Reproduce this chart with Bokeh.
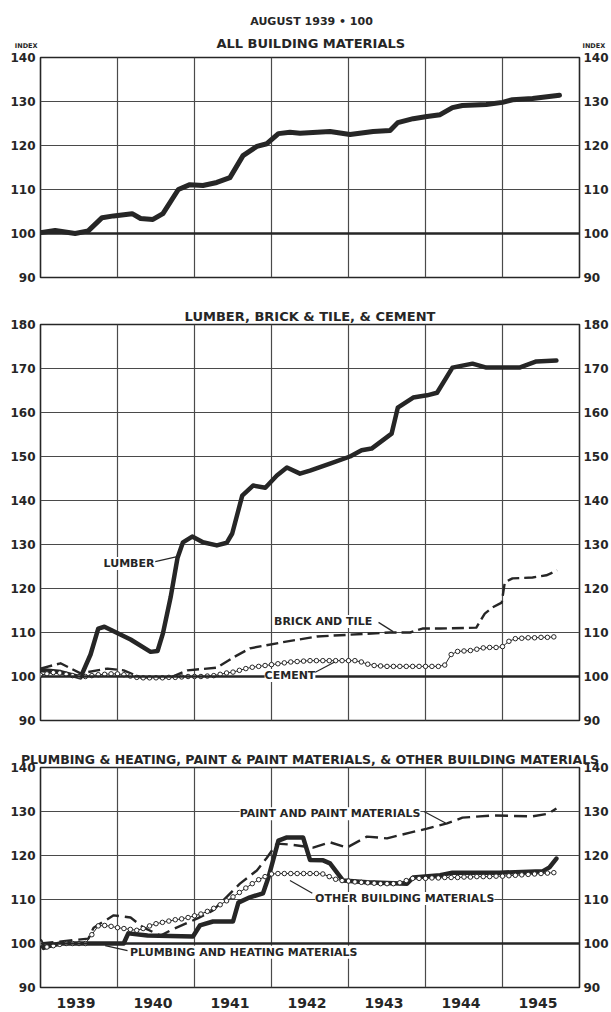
from bokeh.plotting import figure
from bokeh.models import Range1d, LinearAxis, FixedTicker, Span, Label
from bokeh.layouts import column
from bokeh.core.properties import value
from bokeh.embed import file_html
from bokeh.resources import INLINE

# ---------------- data (index, August 1939 = 100) ----------------
# time is in decimal years; monthly series start January 1939

all_t = [1939.00, 1939.19, 1939.45, 1939.62, 1939.80, 1939.95, 1940.19, 1940.30,
         1940.46, 1940.59, 1940.79, 1940.94, 1941.11, 1941.29, 1941.46, 1941.63,
         1941.81, 1941.94, 1942.09, 1942.24, 1942.37, 1942.76, 1943.02, 1943.32,
         1943.54, 1943.64, 1943.84, 1944.02, 1944.19, 1944.35, 1944.48, 1944.79,
         1945.00, 1945.13, 1945.39, 1945.74]
all_v = [100.2, 100.7, 100.0, 100.6, 103.6, 104.0, 104.5, 103.4,
         103.2, 104.5, 110.0, 111.1, 110.9, 111.6, 112.7, 117.7,
         119.8, 120.4, 122.7, 123.0, 122.8, 123.2, 122.5, 123.2,
         123.4, 125.2, 126.1, 126.6, 127.0, 128.6, 129.1, 129.3,
         129.8, 130.4, 130.7, 131.4]

lumber_t = [1939.00, 1939.26, 1939.52, 1939.65, 1939.75, 1939.83, 1940.17, 1940.43,
            1940.52, 1940.59, 1940.69, 1940.78, 1940.85, 1940.97, 1941.11, 1941.29,
            1941.42, 1941.49, 1941.62, 1941.76, 1941.92, 1942.07, 1942.20, 1942.37,
            1942.50, 1942.76, 1943.02, 1943.17, 1943.30, 1943.56, 1943.64, 1943.84,
            1944.02, 1944.15, 1944.35, 1944.61, 1944.79, 1945.22, 1945.44, 1945.70]
lumber_v = [101.5, 101.0, 99.8, 105.0, 110.9, 111.3, 108.4, 105.6,
            105.8, 109.8, 118.0, 127.0, 130.5, 131.8, 130.5, 129.8,
            130.4, 132.5, 141.1, 143.4, 142.9, 145.7, 147.5, 146.1,
            146.8, 148.4, 150.0, 151.4, 151.8, 155.2, 161.1, 163.4,
            163.9, 164.5, 170.2, 171.1, 170.2, 170.2, 171.6, 171.8]

brick_t = [1939.00, 1939.26, 1939.52, 1939.87, 1940.08, 1940.30, 1940.69, 1940.91,
           1941.29, 1941.50, 1941.72, 1942.15, 1942.59, 1943.02, 1943.54, 1943.80,
           1943.96, 1944.19, 1944.66, 1944.77, 1944.87, 1944.99, 1945.03, 1945.13,
           1945.39, 1945.57, 1945.71]
brick_v = [101.8, 103.0, 100.7, 101.8, 101.4, 99.8, 99.8, 101.4,
           102.0, 104.3, 106.4, 107.8, 109.1, 109.5, 110.0, 110.0,
           110.9, 110.9, 111.1, 114.3, 115.7, 116.8, 121.4, 122.3,
           122.5, 123.0, 124.1]

cement_v = [100.3, 100.6, 100.9, 100.8, 100.5, 100.2, 100.0, 100.0, 100.2, 100.4, 100.5, 100.6,
            100.6, 100.4, 100.1, 99.8, 99.7, 99.7, 99.7, 99.7, 99.8, 99.8, 99.9, 100.0,
            100.0, 100.0, 100.1, 100.2, 100.5, 100.8, 101.0, 101.4, 101.8, 102.1, 102.3, 102.5,
            102.7, 102.9, 103.1, 103.3, 103.4, 103.5, 103.6, 103.6, 103.6, 103.6, 103.6, 103.6,
            103.6, 103.6, 103.3, 102.8, 102.5, 102.4, 102.3, 102.3, 102.3, 102.3, 102.3, 102.3,
            102.3, 102.3, 102.3, 102.6, 105.0, 105.7, 105.8, 105.9, 106.2, 106.5, 106.6, 106.6,
            106.8, 108.0, 108.6, 108.7, 108.8, 108.8, 108.9, 108.9, 109.0]

plumbing_t = [1939.00, 1939.04, 1939.13, 1939.26, 1940.08, 1940.14, 1940.39, 1940.98,
              1941.07, 1941.24, 1941.50, 1941.57, 1941.72, 1941.89, 1941.96, 1942.09,
              1942.20, 1942.41, 1942.50, 1942.67, 1942.76, 1942.93, 1943.24, 1943.76,
              1943.84, 1944.19, 1944.35, 1944.96, 1945.52, 1945.61, 1945.70]
plumbing_v = [100.5, 99.0, 99.5, 100.0, 100.0, 102.3, 101.8, 101.6,
              104.1, 105.0, 105.0, 109.3, 110.5, 111.4, 115.0, 123.4,
              124.1, 124.1, 119.0, 118.9, 118.2, 114.3, 113.9, 113.6,
              115.0, 115.5, 116.1, 116.1, 116.4, 117.3, 119.3]

paint_t = [1939.00, 1939.62, 1939.69, 1939.95, 1940.17, 1940.34, 1940.56, 1940.69,
           1941.04, 1941.24, 1941.59, 1941.81, 1941.94, 1942.07, 1942.24, 1942.54,
           1942.76, 1942.98, 1943.24, 1943.50, 1943.80, 1944.02, 1944.28, 1944.48,
           1944.87, 1945.39, 1945.59, 1945.70]
paint_v = [100.0, 101.1, 103.6, 106.4, 105.9, 103.6, 101.8, 103.0,
           105.7, 107.5, 113.6, 116.6, 119.5, 122.7, 122.5, 121.8,
           123.0, 121.8, 124.3, 123.9, 125.2, 126.1, 127.3, 128.6,
           129.1, 128.9, 129.5, 130.7]

other_v = [100.0, 99.2, 99.5, 99.8, 100.0, 100.0, 100.0, 100.0, 102.0, 104.0, 104.1, 103.9,
           103.6, 103.4, 103.2, 103.0, 103.4, 104.0, 104.5, 104.8, 105.1, 105.4, 105.6, 105.9,
           106.3, 106.7, 107.3, 108.0, 108.8, 109.7, 110.6, 111.6, 112.6, 113.6, 114.5, 115.2,
           115.8, 115.9, 115.9, 115.9, 115.9, 115.9, 115.9, 115.9, 115.8, 115.2, 114.6, 114.3,
           114.2, 114.0, 113.9, 113.8, 113.7, 113.6, 113.6, 113.6, 113.8, 114.3, 114.8, 114.8,
           114.8, 114.9, 114.9, 115.0, 115.0, 115.0, 115.1, 115.1, 115.2, 115.2, 115.2, 115.3,
           115.3, 115.4, 115.5, 115.6, 115.7, 115.8, 115.9, 116.0, 116.1]

years = ["1939", "1940", "1941", "1942", "1943", "1944", "1945"]
ticks_top = [90, 100, 110, 120, 130, 140]
ticks_mid = [90, 100, 110, 120, 130, 140, 150, 160, 170, 180]
ticks_low = [90, 100, 110, 120, 130, 140]

cement_t = [1939 + i / 12 for i in range(len(cement_v))]
other_t = [1939 + i / 12 for i in range(len(other_v))]

# ---------------- styling ----------------
INK = "#262626"
GRID = "#4a4a4a"
FONT = "DejaVu Sans"
W = 611
X0, X1 = 1939, 1946


def style_axis(ax, size, standoff):
    ax.major_tick_line_color = None
    ax.minor_tick_line_color = None
    ax.major_tick_out = 0
    ax.major_tick_in = 0
    ax.minor_tick_out = 0
    ax.minor_tick_in = 0
    ax.axis_line_color = None
    ax.major_label_text_font = FONT
    ax.major_label_text_font_style = "bold"
    ax.major_label_text_font_size = size
    ax.major_label_text_color = INK
    ax.major_label_standoff = standoff


def panel(height, top, bottom, ymin, ymax, yticks, title=None, title_size="13px",
          title_offset=0, title_standoff=2, with_years=False):
    p = figure(width=W, height=height,
               x_range=Range1d(X0, X1), y_range=Range1d(ymin, ymax),
               x_axis_location="below" if with_years else None,
               y_axis_location="left",
               toolbar_location=None, output_backend="svg",
               min_border_left=40, min_border_right=31,
               min_border_top=top, min_border_bottom=bottom)
    if title:
        p.title.text = title
        p.title.align = "center"
        p.title.offset = title_offset
        p.title.standoff = title_standoff
        p.title.text_font = FONT
        p.title.text_font_style = "bold"
        p.title.text_font_size = title_size
        p.title.text_color = INK
    p.add_layout(LinearAxis(), "right")
    p.background_fill_color = "white"
    p.border_fill_color = "white"
    p.outline_line_color = INK
    p.outline_line_width = 1.6

    for ax in p.yaxis:
        ax.ticker = FixedTicker(ticks=yticks)
        style_axis(ax, "12px", 5)
    p.yaxis[1].major_label_standoff = 4

    p.ygrid.ticker = FixedTicker(ticks=yticks)
    p.xgrid.ticker = FixedTicker(ticks=[1940, 1941, 1942, 1943, 1944, 1945])
    p.grid.grid_line_color = GRID
    p.grid.grid_line_width = 1.2

    p.add_layout(Span(location=100, dimension="width", line_color=INK, line_width=2.4))

    if with_years:
        pos = [int(y) + 0.46 for y in years]
        ax = p.xaxis[0]
        ax.ticker = FixedTicker(ticks=pos)
        ax.major_label_overrides = {k: y for k, y in zip(pos, years)}
        style_axis(ax, "14px", 10)
    return p


def text(p, x, y, s, size="11px"):
    p.add_layout(Label(x=x, y=y, text=s, text_align="center", text_baseline="middle",
                       text_font=FONT, text_font_style="bold", text_font_size=size,
                       text_color=INK, background_fill_color="white"))


def leader(p, xs, ys):
    p.line(xs, ys, line_color=INK, line_width=1.2)


# ---------------- heading strip (y in pixels from the top) ----------------
HEAD_H = 50
head = figure(width=W, height=HEAD_H, x_range=Range1d(X0, X1), y_range=Range1d(HEAD_H, 0),
              x_axis_location=None, y_axis_location="left",
              toolbar_location=None, output_backend="svg",
              min_border_left=40, min_border_right=31, min_border_top=0, min_border_bottom=0,
              outline_line_color=None)
head.add_layout(LinearAxis(), "right")
head.grid.visible = False
for ax in head.yaxis:
    ax.ticker = FixedTicker(ticks=[45])
    ax.major_label_overrides = {45: "INDEX"}
    style_axis(ax, "6.5px", 3)
head.text(x=[1942.52, 1942.51], y=[21, 42.5],
          text=["AUGUST 1939 \u2022 100", "ALL BUILDING MATERIALS"],
          text_font_size=["11px", "13px"],
          text_align="center", text_baseline="middle",
          text_font=value(FONT), text_font_style="bold", text_color=INK)

# ---------------- all building materials ----------------
p1 = panel(240, 7, 13, 90, 140, ticks_top)
p1.line(all_t, all_v, line_color=INK, line_width=5, line_join="round", line_cap="round")

# ---------------- lumber, brick & tile, cement ----------------
p2 = panel(440, 34, 10, 90, 180, ticks_mid, title="LUMBER, BRICK & TILE, & CEMENT")
p2.line(lumber_t, lumber_v, line_color=INK, line_width=4.5, line_join="round", line_cap="round")
p2.line(brick_t, brick_v, line_color=INK, line_width=2.4, line_dash="12 5", line_join="round")
p2.line(cement_t, cement_v, line_color=INK, line_width=1)
p2.scatter(cement_t, cement_v, marker="circle", size=4.5, fill_color="white",
           line_color=INK, line_width=1)
text(p2, 1940.15, 125.7, "LUMBER")
leader(p2, [1940.49, 1940.76], [126.1, 127.2])
text(p2, 1942.67, 112.5, "BRICK AND TILE")
leader(p2, [1943.39, 1943.58], [112.3, 110.2])
text(p2, 1942.24, 100.2, "CEMENT")
leader(p2, [1942.55, 1942.82], [100.8, 103.3])

# ---------------- plumbing & heating, paint, other ----------------
p3 = panel(282, 37, 25, 90, 140, ticks_low,
           title="PLUMBING & HEATING, PAINT & PAINT MATERIALS, & OTHER BUILDING MATERIALS",
           title_size="12.5px", title_offset=-3, title_standoff=1, with_years=True)
p3.line(plumbing_t, plumbing_v, line_color=INK, line_width=4.5, line_join="round", line_cap="round")
p3.line(paint_t, paint_v, line_color=INK, line_width=2.4, line_dash="13 6", line_join="round")
p3.line(other_t, other_v, line_color=INK, line_width=1)
p3.scatter(other_t, other_v, marker="circle", size=4.5, fill_color="white",
           line_color=INK, line_width=1)
text(p3, 1942.76, 129.5, "PAINT AND PAINT MATERIALS")
leader(p3, [1943.98, 1944.26], [130.0, 127.4])
text(p3, 1943.73, 110.2, "OTHER BUILDING MATERIALS")
leader(p3, [1942.24, 1942.53], [114.3, 111.4])
text(p3, 1941.64, 98.0, "PLUMBING AND HEATING MATERIALS")
leader(p3, [1939.84, 1940.13], [99.5, 98.4])

layout = column(head, p1, p2, p3, spacing=0)
open("out.html", "w").write(file_html(layout, INLINE))
